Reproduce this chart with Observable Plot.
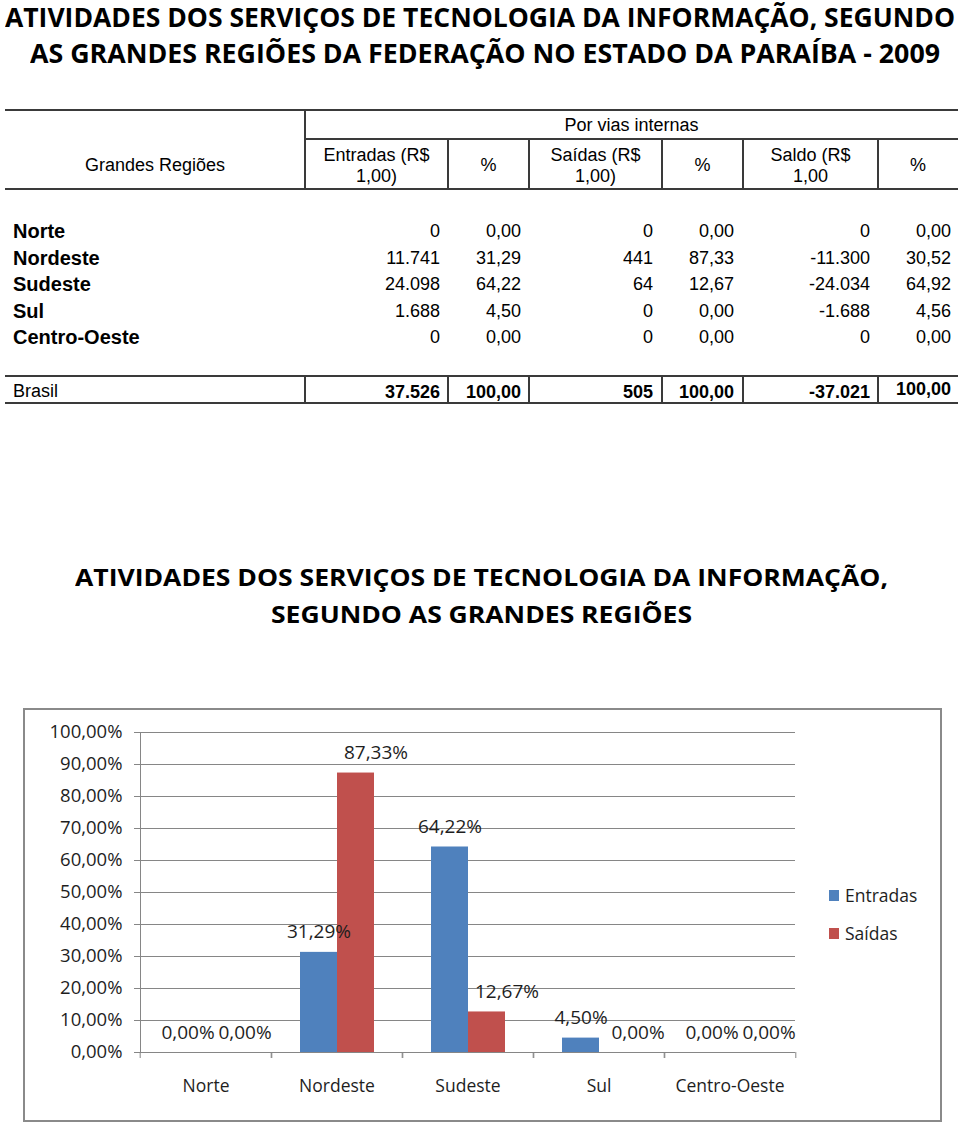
<!DOCTYPE html>
<html><head><meta charset="utf-8">
<script src="https://cdn.jsdelivr.net/npm/d3@7"></script>
<script src="https://cdn.jsdelivr.net/npm/@observablehq/plot@0.6"></script>
<style>
body{margin:0;background:#fff;}
#page{position:relative;width:960px;height:1123px;overflow:hidden;font-family:"Liberation Sans",Arial,sans-serif;color:#000;}
.abs{position:absolute;white-space:nowrap;}
.title{font-family:"Open Sans",sans-serif;font-weight:700;transform-origin:left center;line-height:30px;height:30px;}
.hl{position:absolute;height:2px;background:#3a3a3a;}
.vl{position:absolute;width:2px;background:#3a3a3a;}
</style></head>
<body><div id="page"></div>
<script>
// ---------- data ----------
const pageTitle = ["ATIVIDADES DOS SERVIÇOS DE TECNOLOGIA DA INFORMAÇÃO, SEGUNDO",
                   "AS GRANDES REGIÕES DA FEDERAÇÃO NO ESTADO DA PARAÍBA - 2009"];
const chartTitle = ["ATIVIDADES DOS SERVIÇOS DE TECNOLOGIA DA INFORMAÇÃO,",
                    "SEGUNDO AS GRANDES REGIÕES"];
const regionHeader = "Grandes Regiões";
const groupHeader = "Por vias internas";
const columnHeaders = [["Entradas (R$","1,00)"],["%"],["Saídas (R$","1,00)"],["%"],["Saldo (R$","1,00"],["%"]];
const regions = ["Norte","Nordeste","Sudeste","Sul","Centro-Oeste"];
const entradas    = [0, 11741, 24098, 1688, 0];
const entradasPct = [0, 31.29, 64.22, 4.50, 0];
const saidas      = [0, 441, 64, 0, 0];
const saidasPct   = [0, 87.33, 12.67, 0, 0];
const saldo       = [0, -11300, -24034, -1688, 0];
const saldoPct    = [0, 30.52, 64.92, 4.56, 0];
const totalLabel  = "Brasil";
const totals      = [37526, 100, 505, 100, -37021, 100];
const series = ["Entradas","Saídas"];
const yTicks = [0,10,20,30,40,50,60,70,80,90,100];

// ---------- formatting ----------
const loc = d3.formatLocale({decimal:",", thousands:".", grouping:[3], currency:["R$ ",""], minus:"-"});
const fInt = loc.format(",d");
const fDec = loc.format(",.2f");
const fPct = v => fDec(v) + "%";

const page = document.getElementById("page");
function el(cls, css, text){
  const d = document.createElement("div");
  d.className = cls; Object.assign(d.style, css);
  if (text != null) d.textContent = text;
  page.appendChild(d); return d;
}
function fit(d, target){
  const w = d.getBoundingClientRect().width;
  d.style.transform = `scaleX(${target / w})`;
}

// ---------- page title ----------
const t1 = el("abs title", {left:"5px", top:"2px", fontSize:"26px"}, pageTitle[0]);
const t2 = el("abs title", {left:"30px", top:"38px", fontSize:"26px"}, pageTitle[1]);
fit(t1, 950); fit(t2, 910);

// ---------- table ----------
const edges = [5, 305, 448, 529, 662, 743, 878, 958];
const hl = (x1, x2, y) => el("hl", {left:x1+"px", width:(x2-x1)+"px", top:(y-1)+"px"});
const vl = (x, y1, y2) => el("vl", {left:(x-1)+"px", top:y1+"px", height:(y2-y1)+"px"});
hl(5, 958, 110); hl(305, 958, 139); hl(5, 958, 189); hl(5, 958, 376); hl(5, 958, 403);
vl(305, 110, 189);
for (let k = 2; k < edges.length - 1; k++) vl(edges[k], 139, 189);
for (let k = 1; k < edges.length - 1; k++) vl(edges[k], 376, 403);

function centered(x1, x2, cy, text, css={}){
  return el("abs", Object.assign({left:x1+"px", width:(x2-x1)+"px", top:(cy-10)+"px", height:"20px", lineHeight:"20px", textAlign:"center", fontSize:"18px"}, css), text);
}
function right(xr, cy, text, css={}){
  return el("abs", Object.assign({left:(xr-200)+"px", width:"200px", top:(cy-10)+"px", height:"20px", lineHeight:"20px", textAlign:"right", fontSize:"18px"}, css), text);
}
function leftText(x, cy, text, css={}){
  return el("abs", Object.assign({left:x+"px", top:(cy-10)+"px", height:"20px", lineHeight:"20px", fontSize:"18px"}, css), text);
}
centered(5, 305, 164.5, regionHeader);
centered(305, 958, 125, groupHeader);
columnHeaders.forEach((h, k) => {
  if (h.length === 2) { centered(edges[k+1], edges[k+2], 154.5, h[0]); centered(edges[k+1], edges[k+2], 175.5, h[1]); }
  else centered(edges[k+1], edges[k+2], 164.5, h[0]);
});
const rightEdges = [440, 521, 653, 734, 870, 951];
const cols = [[entradas,fInt],[entradasPct,fDec],[saidas,fInt],[saidasPct,fDec],[saldo,fInt],[saldoPct,fDec]];
regions.forEach((r, i) => {
  const cy = 231 + i * 26.6;
  leftText(13, cy, r, {fontWeight:"700", fontSize:"20px"});
  cols.forEach(([arr, f], k) => right(rightEdges[k], cy, f(arr[i])));
});
leftText(13, 391, totalLabel);
totals.forEach((v, k) => right(rightEdges[k], k === 5 ? 389 : 391.5, (k % 2 ? fDec : fInt)(v), {fontWeight:"700"}));

// ---------- chart title ----------
const c1 = el("abs title", {left:"75px", top:"562px", fontSize:"24px"}, chartTitle[0]);
const c2 = el("abs title", {left:"271px", top:"599px", fontSize:"24px"}, chartTitle[1]);
fit(c1, 813); fit(c2, 421);

// ---------- chart ----------
const box = el("abs", {left:"23px", top:"708px", width:"919px", height:"414px", border:"2px solid #8a8a8a", boxSizing:"border-box"});
const chartData = regions.flatMap((r, i) => [
  {region:r, series:series[0], value:entradasPct[i]},
  {region:r, series:series[1], value:saidasPct[i]}
]);
const W = 919, ML = 115, MR = 146;
const bw = (W - ML - MR) / regions.length;
const colors = ["#4F81BD", "#C0504D"];
const grey = "#868686";
const txt = "#1e1e1e";
const plot = Plot.plot({
  width: W, height: 414,
  marginLeft: ML, marginRight: MR, marginTop: 24, marginBottom: 70,
  style: {fontFamily:"'Open Sans', sans-serif", fontSize:"18.5px", color:txt, background:"transparent", overflow:"visible"},
  fx: {domain: regions, padding: 0, label: null},
  x: {domain: series, paddingInner: 0, paddingOuter: 0.755, axis: null},
  y: {domain: [0, 100], label: null},
  color: {domain: series, range: colors},
  marks: [
    Plot.gridY(yTicks, {stroke: grey, strokeOpacity: 1, strokeWidth: 1}),
    Plot.axisY(yTicks, {tickSize: 6, tickPadding: 12, tickFormat: fPct, stroke: grey, fill: txt, fontSize: 18.5, label: null}),
    Plot.barY(chartData, {fx: "region", x: "series", y: "value", fill: "series"}),
    Plot.ruleY([0], {stroke: grey}),
    Plot.axisFx({anchor: "bottom", tickSize: 0, tickPadding: 27, fill: txt, fontSize: 17.5, label: null}),
    Plot.axisFx({anchor: "bottom", tickSize: 6, tickFormat: () => "", dx: -bw / 2, stroke: grey, label: null}),
    Plot.axisFx({anchor: "bottom", tickSize: 6, tickFormat: () => "", dx: bw / 2, stroke: grey, label: null}),
    Plot.frame({anchor: "left", facet: "super", stroke: grey}),
    Plot.text(chartData, {filter: d => d.series === series[0], fx: "region", x: "series", y: "value", text: d => fPct(d.value), dy: -20, fill: txt, fontSize: 19}),
    Plot.text(chartData, {filter: d => d.series === series[1], fx: "region", x: "series", y: "value", text: d => fPct(d.value), dy: -20, dx: 20, fill: txt, fontSize: 19})
  ]
});
plot.style.position = "absolute"; plot.style.left = "23px"; plot.style.top = "708px";
page.appendChild(plot);

// legend
series.forEach((s, i) => {
  const cy = 895 + i * 38;
  el("abs", {left:"829px", top:(cy-5)+"px", width:"10px", height:"11px", background:colors[i]});
  el("abs", {left:"845px", top:(cy-12)+"px", height:"24px", lineHeight:"24px", fontFamily:"'Open Sans', sans-serif", fontSize:"17.5px", color:txt}, s);
});
</script>
</body></html>
